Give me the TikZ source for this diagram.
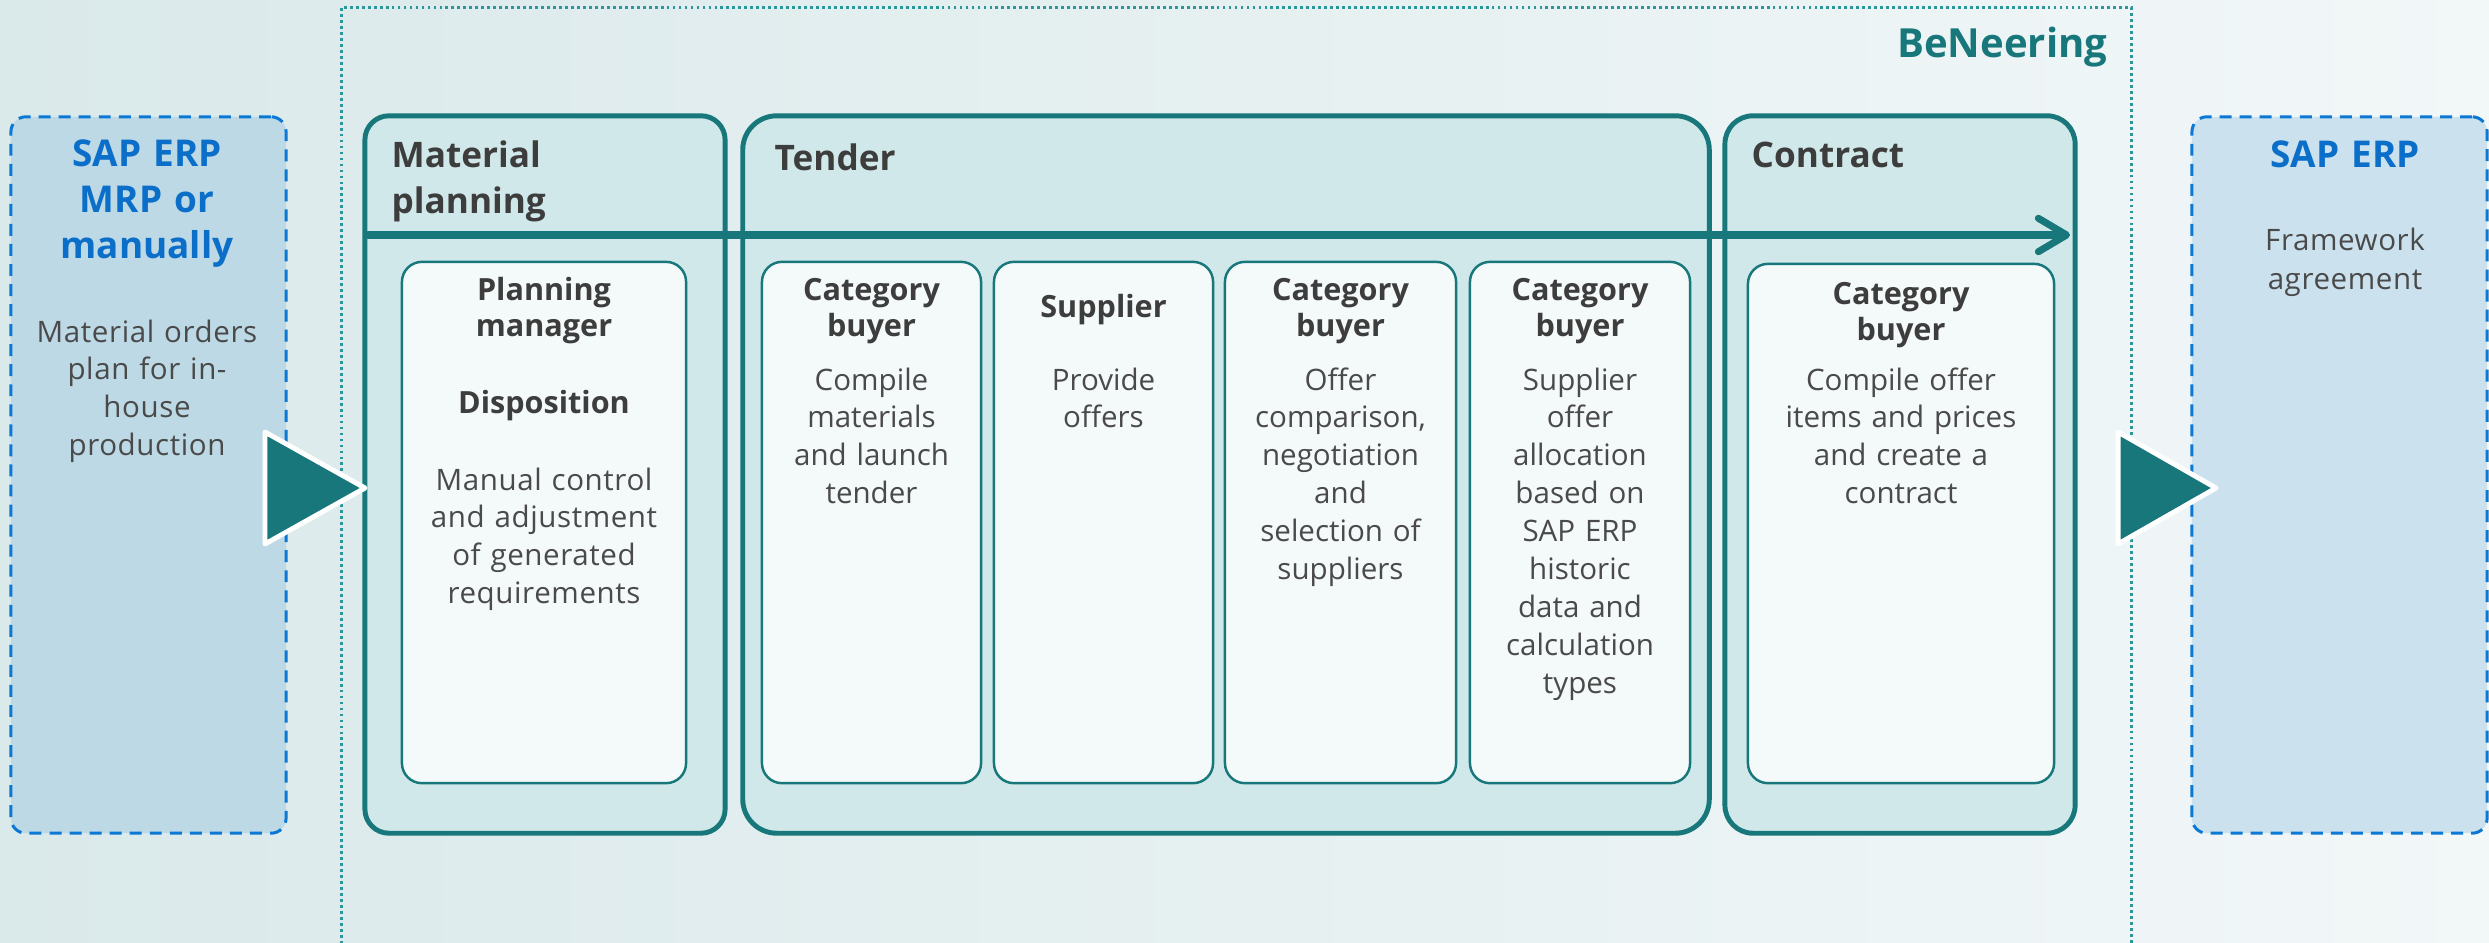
\documentclass[tikz,border=0pt]{standalone}
\usepackage{fontspec}
\setmainfont{Open Sans}
\usetikzlibrary{arrows.meta}
\definecolor{tealc}{HTML}{17777A}
\definecolor{dotc}{HTML}{2B979B}
\definecolor{outerfill}{HTML}{D0E8E9}
\definecolor{innerfill}{HTML}{F4F9F9}
\definecolor{sapLfill}{HTML}{BDD9E5}
\definecolor{sapRfill}{HTML}{CBE2EE}
\definecolor{bluec}{HTML}{0A78D4}
\definecolor{titleblue}{HTML}{0B6FC9}
\definecolor{bodyc}{HTML}{4A4A4A}
\definecolor{headc}{HTML}{3D3D3D}
\definecolor{bgL}{HTML}{DAE9EA}
\definecolor{bgR}{HTML}{F2F7F8}
\begin{document}
\begin{tikzpicture}[x=0.01cm,y=-0.01cm,
  sapbox/.style={draw=bluec, line width=0.85pt, dash pattern=on 3.4pt off 2.3pt, rounded corners=0.15cm, inner sep=0pt},
  beneer/.style={draw=dotc, line width=0.8pt, dash pattern=on 0.8pt off 0.9pt, inner sep=0pt},
  outerbox/.style={draw=tealc, line width=1.4pt, fill=outerfill, rounded corners=0.26cm, inner sep=0pt},
  innerbox/.style={draw=tealc, line width=0.7pt, fill=innerfill, rounded corners=0.2cm, inner sep=0pt},
  body/.style={text=bodyc, font=\fontsize{8.4}{10.8}\selectfont, align=center, anchor=base, inner sep=0pt},
  ihead/.style={text=headc, font=\fontsize{8.7}{10.25}\selectfont\bfseries, align=center, anchor=base, inner sep=0pt},
  ohead/.style={text=headc, font=\fontsize{10}{13.1}\selectfont\bfseries, align=left, anchor=base west, inner sep=0pt},
  saptitle/.style={text=titleblue, font=\fontsize{10.5}{13.1}\selectfont\bfseries, align=center, anchor=base, inner sep=0pt},
  tri/.style={fill=tealc, draw=white, line width=1.4pt, line join=round},
  flow/.style={draw=tealc, line width=2pt, line cap=round, -{Straight Barb[length=8pt,width=9.5pt,round]}}
]
\useasboundingbox (0,0) rectangle (2489,942);
\shade[left color=bgL, right color=bgR] (0,0) rectangle (2489,942);

% BeNeering frame
\node[beneer, anchor=north west, minimum width=17.89cm, minimum height=9.8cm] (ben) at (340,6) {};
\node[text=tealc, font=\fontsize{11.4}{13}\selectfont\bfseries, anchor=base east, inner sep=0pt] (benlabel) at (2108,57) {BeNeering};

% SAP boxes
\node[sapbox, fill=sapLfill, minimum width=2.75cm, minimum height=7.16cm] (sapL) at (148.5,475) {};
\node[sapbox, fill=sapRfill, minimum width=2.95cm, minimum height=7.16cm] (sapR) at (2339.5,475) {};

% outer boxes
\node[outerbox, rounded corners=0.24cm, minimum width=3.60cm, minimum height=7.17cm] (mp) at (545,474.5) {};
\node[outerbox, rounded corners=0.34cm, minimum width=9.66cm, minimum height=7.17cm] (tender) at (1226,474.5) {};
\node[outerbox, rounded corners=0.28cm, minimum width=3.50cm, minimum height=7.17cm] (contract) at (1900,474.5) {};

% inner boxes
\node[innerbox, minimum width=2.84cm, minimum height=5.21cm] (pm) at (544,522.5) {};
\node[innerbox, minimum width=2.19cm, minimum height=5.21cm] (cb1) at (871.5,522.5) {};
\node[innerbox, minimum width=2.19cm, minimum height=5.21cm] (sup) at (1103.5,522.5) {};
\node[innerbox, minimum width=2.31cm, minimum height=5.21cm] (cb2) at (1340.5,522.5) {};
\node[innerbox, minimum width=2.20cm, minimum height=5.21cm] (cb3) at (1580,522.5) {};
\node[innerbox, minimum width=3.06cm, minimum height=5.19cm] (ccb) at (1901,523.5) {};

% flow arrow
\coordinate (arrS) at (368,235);
\coordinate (arrE) at (2070,235);
\draw[flow] (arrS) -- (arrE);

% triangles
\draw[tri] (265,432) -- (365,488) -- (265,544) -- cycle;
\draw[tri] (2118,432) -- (2216,488) -- (2118,544) -- cycle;

% left SAP text
\node[saptitle, text width=2.6cm] (sapLt) at (147,166) {SAP ERP\\MRP or\\manually};
\node[body, text width=2.6cm] (sapLb) at (147,342) {\addfontfeature{LetterSpace=2}Material orders\\plan for in-\\house\\production};

% right SAP text
\node[saptitle, text width=2.8cm] (sapRt) at (2345,167) {SAP ERP};
\node[body, text width=2.8cm, font=\fontsize{8.4}{11.2}\selectfont] (sapRb) at (2345,250) {\addfontfeature{LetterSpace=2}Framework\\agreement};

% outer headings
\node[ohead, text width=3.2cm] (mph) at (391,167) {Material\\planning};
\node[ohead] (tenh) at (774,170) {Tender};
\node[ohead] (conh) at (1751,167) {Contract};

% planning manager
\node[ihead, text width=2.7cm] (pmh) at (544,300) {Planning\\manager};
\node[ihead, text width=2.7cm] (pmd) at (544,413) {Disposition};
\node[body, text width=2.75cm] (pmb) at (544,490) {\addfontfeature{LetterSpace=2}Manual control\\and adjustment\\of generated\\requirements};

% category buyer 1
\node[ihead, text width=2.1cm] (cb1h) at (871.5,300) {Category\\buyer};
\node[body, text width=2.1cm] (cb1b) at (871.5,390) {Compile\\materials\\and launch\\tender};

% supplier
\node[ihead, text width=2.1cm] (suph) at (1103.5,317) {Supplier};
\node[body, text width=2.1cm] (supb) at (1103.5,390) {Provide\\offers};

% category buyer 2
\node[ihead, text width=2.2cm] (cb2h) at (1340.5,300) {Category\\buyer};
\node[body, text width=2.2cm] (cb2b) at (1340.5,390) {Offer\\comparison,\\negotiation\\and\\selection of\\suppliers};

% category buyer 3
\node[ihead, text width=2.1cm] (cb3h) at (1580,300) {Category\\buyer};
\node[body, text width=2.1cm] (cb3b) at (1580,390) {Supplier\\offer\\allocation\\based on\\SAP ERP\\historic\\data and\\calculation\\types};

% contract category buyer
\node[ihead, text width=2.9cm] (ccbh) at (1901,304) {Category\\buyer};
\node[body, text width=2.9cm] (ccbb) at (1901,390) {Compile offer\\items and prices\\and create a\\contract};
\end{tikzpicture}
\end{document}
